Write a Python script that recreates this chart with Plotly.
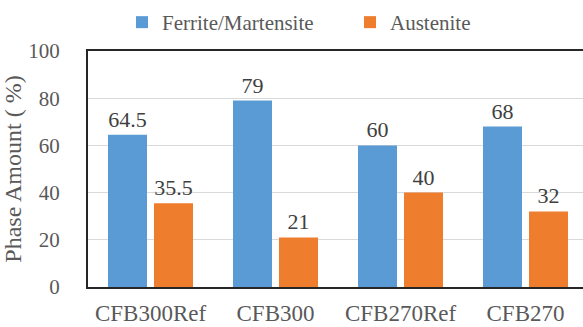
import plotly.graph_objects as go

# Phase fractions measured for each steel condition
samples = ["CFB300Ref", "CFB300", "CFB270Ref", "CFB270"]
ferrite_martensite = [64.5, 79, 60, 68]
austenite = [35.5, 21, 40, 32]
y_ticks = [0, 20, 40, 60, 80, 100]

FONT = "Liberation Serif"
TEXT_GRAY = "#595959"
LABEL_GRAY = "#404040"

fig = go.Figure()
fig.add_trace(go.Bar(
    name="Ferrite/Martensite", legend="legend",
    x=samples, y=ferrite_martensite,
    marker=dict(color="#5b9bd5", line=dict(width=0)),
    text=[f"{v:g}" for v in ferrite_martensite],
    textposition="outside", cliponaxis=False,
    textfont=dict(family=FONT, size=22, color=LABEL_GRAY),
))
fig.add_trace(go.Bar(
    name="Austenite", legend="legend2",
    x=samples, y=austenite,
    marker=dict(color="#ef7d2e", line=dict(width=0)),
    text=[f"{v:g}" for v in austenite],
    textposition="outside", cliponaxis=False,
    textfont=dict(family=FONT, size=22, color=LABEL_GRAY),
))

legend_style = dict(
    orientation="h", xref="container", yref="container",
    xanchor="left", yanchor="top", y=1.0 - 2 / 327,
    font=dict(family=FONT, size=21, color=TEXT_GRAY),
    itemwidth=30, bgcolor="rgba(0,0,0,0)",
)

fig.update_layout(
    width=583, height=327,
    margin=dict(l=88, r=0, t=51, b=40, autoexpand=False),
    paper_bgcolor="white", plot_bgcolor="white",
    barmode="group", bargap=0.264, bargroupgap=0.152,
    font=dict(family=FONT, size=21, color=TEXT_GRAY),
    legend=dict(legend_style, x=122 / 583),
    legend2=dict(legend_style, x=350 / 583),
    showlegend=True,
)
fig.update_xaxes(
    type="category", range=[-0.5, 3.46],
    showline=True, linecolor="#262626", linewidth=2, mirror=True,
    showgrid=False, ticks="", ticklabelstandoff=4,
    tickfont=dict(family=FONT, size=23, color=TEXT_GRAY),
)
fig.update_yaxes(
    range=[0, 100], tickvals=y_ticks,
    showline=True, linecolor="#262626", linewidth=2, mirror=True,
    showgrid=True, gridcolor="#d9d9d9", gridwidth=1,
    zeroline=False, ticks="", ticklabelstandoff=22,
    tickfont=dict(family=FONT, size=21, color=TEXT_GRAY),
    title=dict(text="Phase Amount ( %)", standoff=0,
               font=dict(family=FONT, size=24, color=TEXT_GRAY)),
)

fig.write_html("out.html")
